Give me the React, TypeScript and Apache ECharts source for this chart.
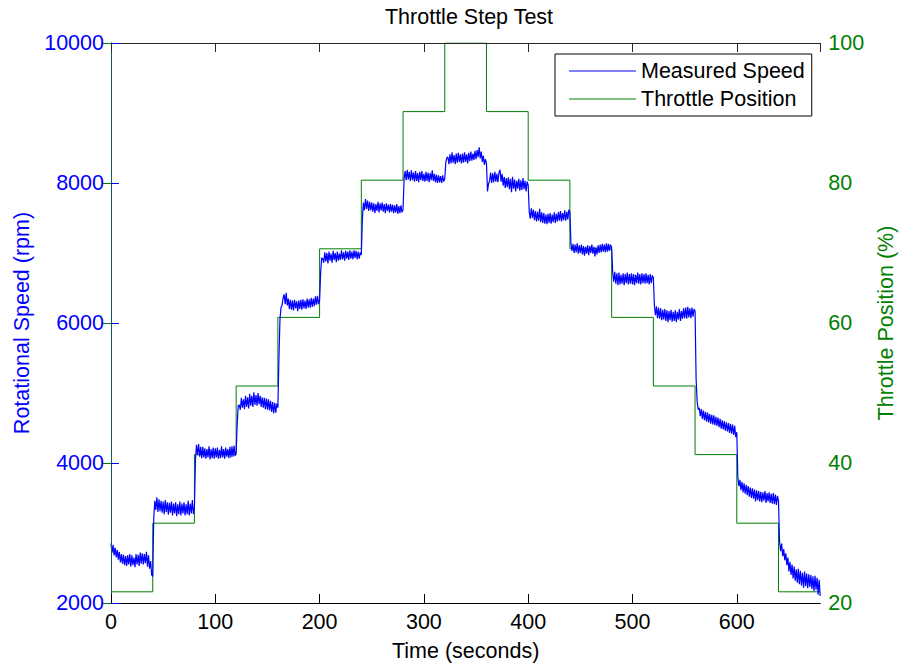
import React, { useEffect, useRef } from "react";
import * as echarts from "echarts";

// Throttle command: one level held for 40 s per step, ramping up and back down.
const stepStartSec = [0, 40, 80, 120, 160, 200, 240, 280, 320, 360, 400, 440, 480, 520, 560, 600, 640];
const throttlePct = [21.6, 31.4, 41.2, 51.0, 60.8, 70.6, 80.4, 90.2, 100, 90.2, 80.4, 70.6, 60.8, 51.0, 41.2, 31.4, 21.6];
const testEndSec = 680;

// Measured rotational speed, one sample per second from t = 0 to t = 680 s
// (one row of 40 samples per throttle step).
const speedRpm = [
  2850, 2720, 2830, 2680, 2790, 2650, 2760, 2620, 2730, 2580, 2700, 2560, 2690, 2540, 2670, 2530, 2680, 2550, 2700, 2520,
  2680, 2540, 2650, 2510, 2700, 2550, 2690, 2530, 2720, 2560, 2710, 2550, 2700, 2570, 2730, 2520, 2680, 2490, 2600, 2400,
  2380, 3220, 3460, 3330, 3510, 3300, 3480, 3310, 3460, 3290, 3450, 3270, 3470, 3300, 3440, 3260, 3430, 3290, 3450, 3250,
  3420, 3280, 3440, 3240, 3410, 3270, 3450, 3250, 3420, 3280, 3440, 3250, 3410, 3270, 3460, 3250, 3420, 3280, 3470, 3270,
  3380, 4060, 4260, 4110, 4270, 4090, 4230, 4070, 4230, 4080, 4210, 4060, 4200, 4080, 4240, 4050, 4200, 4070, 4220, 4060,
  4210, 4080, 4220, 4060, 4190, 4070, 4240, 4080, 4200, 4060, 4220, 4090, 4200, 4070, 4230, 4080, 4240, 4090, 4250, 4100,
  4160, 4560, 4820, 4830, 4760, 4930, 4790, 4910, 4770, 4960, 4800, 4940, 4780, 4990, 4820, 4960, 4800, 5010, 4830, 4970,
  4820, 5000, 4840, 4960, 4800, 4940, 4790, 4930, 4770, 4920, 4760, 4910, 4750, 4890, 4730, 4870, 4710, 4860, 4720, 4850,
  4790, 5500, 6050, 6220, 6250, 6360, 6410, 6270, 6430, 6250, 6350, 6200, 6330, 6190, 6320, 6180, 6330, 6210, 6310, 6170,
  6320, 6200, 6330, 6190, 6340, 6210, 6320, 6200, 6350, 6220, 6340, 6220, 6360, 6230, 6350, 6240, 6380, 6260, 6390, 6270,
  6330, 6720, 6930, 6920, 6860, 7010, 6880, 7000, 6850, 7020, 6890, 6990, 6860, 7030, 6900, 7000, 6870, 7020, 6890, 6990,
  6900, 7040, 6910, 7010, 6890, 7030, 6920, 7020, 6900, 7040, 6920, 7020, 6910, 7040, 6930, 7030, 6910, 7020, 6920, 7010,
  6970, 7480, 7720, 7610, 7770, 7630, 7750, 7600, 7730, 7610, 7720, 7590, 7710, 7570, 7700, 7600, 7730, 7580, 7710, 7610,
  7720, 7590, 7700, 7570, 7710, 7600, 7690, 7580, 7700, 7590, 7690, 7570, 7680, 7580, 7700, 7560, 7670, 7570, 7680, 7580,
  7620, 8060, 8170, 8040, 8190, 8050, 8160, 8030, 8180, 8040, 8150, 8020, 8170, 8030, 8140, 8010, 8160, 8040, 8170, 8030,
  8130, 8020, 8160, 8030, 8150, 8010, 8140, 8040, 8180, 8030, 8130, 8010, 8120, 8000, 8110, 8010, 8100, 8000, 8110, 8020,
  8060, 8290, 8360, 8370, 8270, 8410, 8280, 8440, 8290, 8400, 8270, 8420, 8290, 8430, 8300, 8410, 8280, 8420, 8290, 8440,
  8300, 8410, 8280, 8430, 8310, 8450, 8320, 8420, 8330, 8460, 8340, 8470, 8370, 8510, 8350, 8450, 8300, 8390, 8260, 8340,
  8280, 7880, 7990, 8030, 8150, 8000, 8140, 8010, 8160, 8020, 8130, 8010, 8150, 8190, 8020, 8130, 7960, 8090, 7930, 8070,
  7940, 8080, 7910, 8060, 7870, 8090, 7920, 8050, 7880, 8030, 7920, 8060, 7890, 8040, 7900, 8070, 7910, 8030, 7880, 8020,
  7970, 7590, 7490, 7640, 7500, 7620, 7470, 7600, 7450, 7590, 7460, 7630, 7440, 7580, 7430, 7570, 7420, 7550, 7410, 7560,
  7430, 7570, 7420, 7550, 7440, 7580, 7430, 7560, 7450, 7590, 7460, 7600, 7450, 7570, 7470, 7610, 7460, 7590, 7480, 7620,
  7580, 7130, 7030, 7130, 7000, 7120, 7010, 7140, 6990, 7110, 7000, 7120, 6980, 7100, 6960, 7090, 6990, 7110, 6970, 7100,
  7000, 7120, 6990, 7090, 6950, 7080, 6980, 7110, 7000, 7120, 7010, 7130, 7020, 7120, 7010, 7140, 7020, 7130, 7030, 7120,
  7080, 6730, 6590, 6730, 6560, 6710, 6540, 6720, 6550, 6690, 6560, 6710, 6540, 6700, 6570, 6720, 6550, 6700, 6560, 6710,
  6550, 6700, 6540, 6690, 6570, 6720, 6560, 6700, 6550, 6710, 6570, 6700, 6560, 6710, 6570, 6690, 6550, 6700, 6570, 6680,
  6650, 6250, 6110, 6240, 6070, 6220, 6060, 6210, 6040, 6190, 6050, 6200, 6030, 6180, 6010, 6170, 6040, 6190, 6020, 6160,
  6030, 6180, 6010, 6160, 6050, 6200, 6030, 6170, 6060, 6210, 6070, 6220, 6060, 6230, 6080, 6210, 6070, 6220, 6090, 6200,
  6170, 5200, 4880, 4760, 4790, 4670, 4770, 4630, 4750, 4610, 4730, 4590, 4720, 4580, 4700, 4560, 4690, 4550, 4680, 4540,
  4660, 4530, 4650, 4510, 4630, 4490, 4610, 4480, 4600, 4460, 4580, 4450, 4570, 4430, 4560, 4420, 4550, 4400, 4530, 4370,
  4440, 3800, 3670, 3760, 3610, 3730, 3580, 3710, 3560, 3690, 3540, 3670, 3520, 3650, 3500, 3640, 3490, 3620, 3450, 3610,
  3470, 3600, 3450, 3590, 3440, 3580, 3460, 3600, 3430, 3570, 3450, 3580, 3430, 3560, 3420, 3570, 3410, 3550, 3400, 3530,
  3460, 2880, 2740, 2850, 2670, 2770, 2610, 2710, 2540, 2650, 2450, 2590, 2400, 2550, 2350, 2520, 2320, 2480, 2290, 2490,
  2270, 2460, 2250, 2430, 2220, 2450, 2240, 2420, 2210, 2410, 2230, 2400, 2200, 2380, 2170, 2390, 2190, 2360, 2120, 2330,
  2100,
];
const sampleIntervalSec = 1;

const FONT = "'Liberation Sans', Arial, Helvetica, sans-serif";
const BLUE = "#0000ff";
const GREEN = "#008000";
const FS = 21.5;

const plain = (v: number) => String(v);

export default function App() {
  const ref = useRef<HTMLDivElement>(null);

  useEffect(() => {
    if (!ref.current) return;
    const chart = echarts.init(ref.current, undefined, { renderer: "svg" });

    const speedData = speedRpm.map((v, i) => [i * sampleIntervalSec, v]);
    const throttleData = stepStartSec
      .map((t, i) => [t, throttlePct[i]])
      .concat([[testEndSec, throttlePct[throttlePct.length - 1]]]);

    chart.setOption({
      animation: false,
      textStyle: { fontFamily: FONT },
      title: {
        text: "Throttle Step Test",
        left: 469,
        top: 6,
        textAlign: "center",
        padding: 0,
        textStyle: { fontFamily: FONT, fontSize: FS, fontWeight: "normal", color: "#000" },
      },
      legend: {
        data: ["Measured Speed", "Throttle Position"],
        orient: "vertical",
        left: 555,
        top: 54,
        padding: [6, 7, 6, 14],
        icon: "rect",
        itemWidth: 67,
        itemHeight: 1,
        itemGap: 6,
        backgroundColor: "#fff",
        borderColor: "#000",
        borderWidth: 1,
        borderRadius: 0,
        textStyle: { fontFamily: FONT, fontSize: FS, color: "#000", lineHeight: 21 },
      },
      grid: { left: 111, right: 78, top: 43, bottom: 59, containLabel: false },
      xAxis: [
        {
          type: "value",
          position: "bottom",
          min: 0,
          max: testEndSec,
          interval: 100,
          name: "Time (seconds)",
          nameLocation: "middle",
          nameGap: 37,
          nameTextStyle: { fontFamily: FONT, fontSize: FS, color: "#000" },
          axisLine: { show: true, lineStyle: { color: "#000", width: 1 } },
          axisTick: { show: true, inside: true, length: 9, lineStyle: { color: "#000" } },
          axisLabel: { show: true, showMaxLabel: false, margin: 8, fontFamily: FONT, fontSize: FS, color: "#000", formatter: plain },
          splitLine: { show: false },
          z: 10,
        },
        {
          type: "value",
          position: "top",
          min: 0,
          max: testEndSec,
          interval: 100,
          axisLine: { show: true, lineStyle: { color: "#262626", width: 1 } },
          axisTick: { show: true, inside: true, length: 9, lineStyle: { color: "#262626" } },
          axisLabel: { show: false },
          splitLine: { show: false },
          z: 10,
        },
      ],
      yAxis: [
        {
          type: "value",
          position: "left",
          min: 2000,
          max: 10000,
          interval: 2000,
          name: "Rotational Speed (rpm)",
          nameLocation: "middle",
          nameRotate: 90,
          nameGap: 78,
          nameTextStyle: { fontFamily: FONT, fontSize: FS, color: BLUE },
          axisLine: { show: true, lineStyle: { color: BLUE, width: 1 } },
          axisTick: { show: true, inside: true, length: 8, lineStyle: { color: BLUE } },
          axisLabel: { margin: 7, fontFamily: FONT, fontSize: FS, color: BLUE, formatter: plain },
          splitLine: { show: false },
          z: 10,
        },
        {
          type: "value",
          position: "right",
          min: 20,
          max: 100,
          interval: 20,
          name: "Throttle Position (%)",
          nameLocation: "middle",
          nameRotate: 90,
          nameGap: 50,
          nameTextStyle: { fontFamily: FONT, fontSize: FS, color: GREEN },
          axisLine: { show: true, lineStyle: { color: "#145a64", width: 1 } },
          axisTick: { show: true, inside: true, length: 8, lineStyle: { color: GREEN } },
          axisLabel: { margin: 8, fontFamily: FONT, fontSize: FS, color: GREEN, formatter: plain },
          splitLine: { show: false },
          z: 10,
        },
      ],
      series: [
        {
          name: "Measured Speed",
          type: "line",
          xAxisIndex: 0,
          yAxisIndex: 0,
          data: speedData,
          symbol: "none",
          lineStyle: { color: BLUE, width: 1.2 },
          itemStyle: { color: BLUE },
          z: 3,
        },
        {
          name: "Throttle Position",
          type: "line",
          xAxisIndex: 0,
          yAxisIndex: 1,
          data: throttleData,
          step: "end",
          symbol: "none",
          lineStyle: { color: GREEN, width: 1 },
          itemStyle: { color: GREEN },
          z: 2,
        },
      ],
    });

    return () => chart.dispose();
  }, []);

  return (
    <div
      ref={ref}
      style={{ position: "absolute", left: 0, top: 0, width: 905, height: 667, background: "#fff" }}
    />
  );
}
